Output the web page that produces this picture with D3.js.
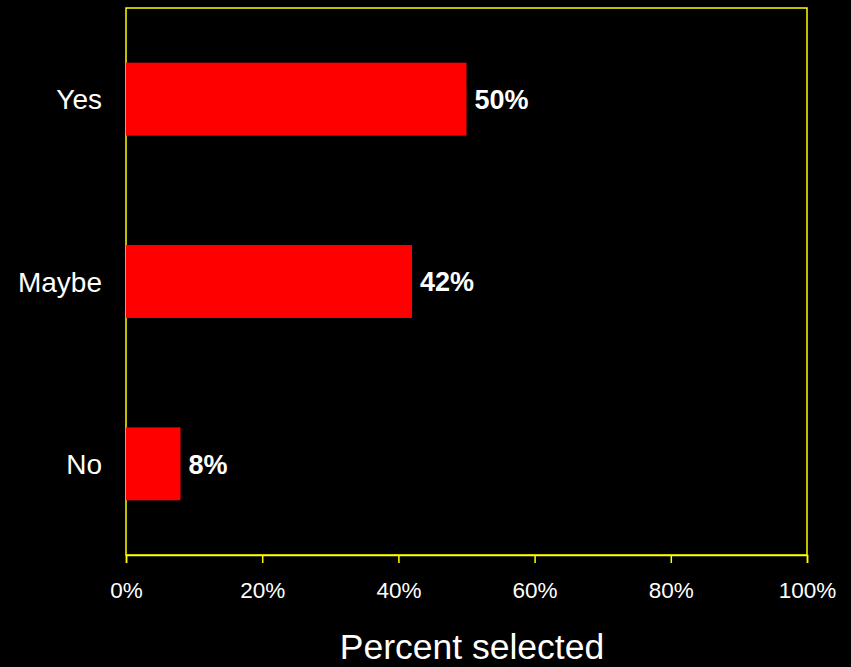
<!DOCTYPE html>
<html>
<head>
<meta charset="utf-8">
<script src="https://cdn.jsdelivr.net/npm/d3@7"></script>
<style>
  html, body { margin: 0; padding: 0; background: #000; }
  svg { display: block; }
</style>
</head>
<body>
<svg id="chart" width="851" height="667"></svg>
<script>
const categories = ["Yes", "Maybe", "No"];
const percents = [50, 42, 8];
const tickValues = [0, 20, 40, 60, 80, 100];

const W = 851, H = 667;
const plot = { left: 126, right: 807, top: 8, bottom: 555 };
const font = "Liberation Sans, Arial, sans-serif";
const svg = d3.select("#chart");
svg.append("rect").attr("width", W).attr("height", H).attr("fill", "#000");

const x = d3.scaleLinear().domain([0, 100]).range([plot.left, plot.right]);
const y = d3.scaleBand().domain(categories).range([plot.top, plot.bottom])
  .paddingInner(0.6).paddingOuter(0.3);

const data = categories.map((c, i) => ({ cat: c, v: percents[i] }));

// plot frame
svg.append("rect")
  .attr("x", plot.left).attr("y", plot.top)
  .attr("width", plot.right - plot.left).attr("height", plot.bottom - plot.top)
  .attr("fill", "none").attr("stroke", "#ffff00").attr("stroke-width", 1.5);

// bars
svg.append("g").selectAll("rect").data(data).join("rect")
  .attr("x", x(0))
  .attr("y", d => y(d.cat))
  .attr("width", d => x(d.v) - x(0))
  .attr("height", y.bandwidth())
  .attr("fill", "#ff0000");

// value labels
svg.append("g").selectAll("text").data(data).join("text")
  .attr("x", d => x(d.v) + 8)
  .attr("y", d => y(d.cat) + y.bandwidth() / 2)
  .attr("dy", "0.36em")
  .attr("fill", "#fff")
  .attr("font-family", font)
  .attr("font-weight", "bold")
  .attr("font-size", 27)
  .text(d => d.v + "%");

// category labels
svg.append("g").selectAll("text").data(categories).join("text")
  .attr("x", 102)
  .attr("y", d => y(d) + y.bandwidth() / 2)
  .attr("dy", "0.36em")
  .attr("text-anchor", "end")
  .attr("fill", "#fff")
  .attr("font-family", font)
  .attr("font-size", 28)
  .text(d => d);

// x axis
const xAxis = d3.axisBottom(x).tickValues(tickValues).tickSize(8).tickFormat(d => d + "%");
const gx = svg.append("g").attr("transform", `translate(0,${plot.bottom})`).call(xAxis);
gx.select(".domain").attr("stroke", "#ffff00").attr("stroke-width", 1.5);
gx.selectAll(".tick line").attr("stroke", "#ffff00").attr("stroke-width", 1.5);
gx.selectAll(".tick text")
  .attr("fill", "#fff")
  .attr("font-family", font)
  .attr("font-size", 22.5)
  .attr("dy", 0)
  .attr("y", 43);

// axis title
svg.append("text")
  .attr("x", 472)
  .attr("y", 659)
  .attr("text-anchor", "middle")
  .attr("fill", "#fff")
  .attr("font-family", font)
  .attr("font-size", 35.5)
  .text("Percent selected");
</script>
</body>
</html>
